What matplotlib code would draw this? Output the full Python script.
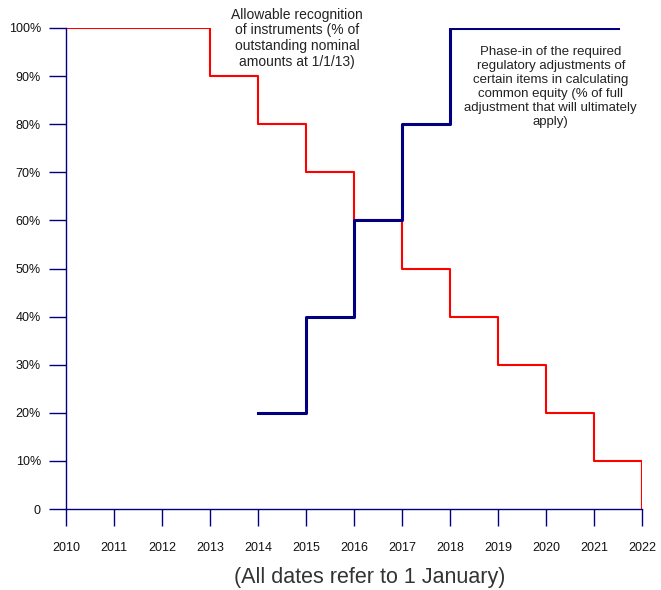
import matplotlib
matplotlib.use("Agg")
import matplotlib.pyplot as plt

plt.rcParams['font.family'] = ['Liberation Sans', 'DejaVu Sans']

years = list(range(2010, 2023))
red_x = [2010, 2013, 2014, 2015, 2016, 2017, 2018, 2019, 2020, 2021, 2022]
red_y = [100, 90, 80, 70, 60, 50, 40, 30, 20, 10, 0]
blue_x = [2014, 2015, 2016, 2017, 2018, 2021.5]
blue_y = [20, 40, 60, 80, 100, 100]
ytick_vals = [0, 10, 20, 30, 40, 50, 60, 70, 80, 90, 100]
ytick_labels = ['0', '10%', '20%', '30%', '40%', '50%', '60%', '70%', '80%', '90%', '100%']

fig = plt.figure(figsize=(6.61, 5.9), dpi=100)
ax = fig.add_axes([66/661, 81/590, (642-66)/661, (509-28)/590])

navy = '#000080'
ax.step(red_x + [2022], red_y + [0], where='post', color='#ff0000', lw=1.5)
ax.plot([2022, 2022], [10, 0], color='#ff0000', lw=1.5)
ax.step(blue_x, blue_y, where='post', color=navy, lw=2.2)

ax.set_xlim(2010, 2022)
ax.set_ylim(0, 100)
ax.set_xticks(years)
ax.set_xticklabels([str(y) for y in years])
ax.set_yticks(ytick_vals)
ax.set_yticklabels(ytick_labels)

for s in ['top', 'right']:
    ax.spines[s].set_visible(False)
for s in ['left', 'bottom']:
    ax.spines[s].set_color(navy)
    ax.spines[s].set_linewidth(1.0)
ax.tick_params(axis='both', direction='out', length=12, width=1, color=navy,
               labelsize=9, labelcolor='#111111')
ax.tick_params(axis='x', pad=12)
ax.tick_params(axis='y', pad=6)

fig.text(370/661, 1 - 577/590, '(All dates refer to 1 January)', fontsize=15.5,
         color='#333333', ha='center', va='center')

ax.text(2014.81, 97.9, 'Allowable recognition\nof instruments (% of\noutstanding nominal\namounts at 1/1/13)',
        ha='center', va='center', fontsize=10, color='#222222', linespacing=1.15, clip_on=False)
ax.text(2020.1, 87.7, 'Phase-in of the required\nregulatory adjustments of\ncertain items in calculating\ncommon equity (% of full\nadjustment that will ultimately\napply)',
        ha='center', va='center', fontsize=9.5, color='#222222', linespacing=1.22)

fig.savefig('out.png', dpi=100)
